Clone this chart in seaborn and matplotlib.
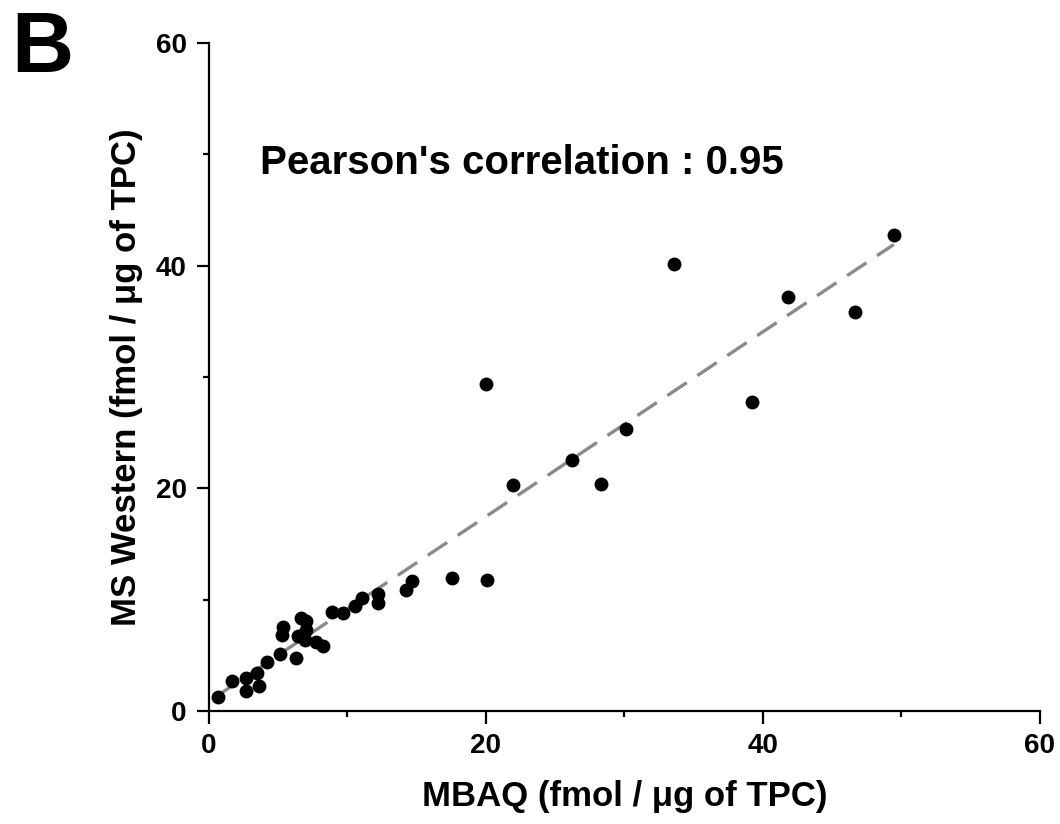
import matplotlib
matplotlib.use("Agg")
import matplotlib.pyplot as plt
import seaborn as sns
import numpy as np
import pandas as pd
from matplotlib.ticker import MultipleLocator

mbaq = [0.67, 1.64, 2.65, 2.72, 3.49, 3.61, 4.21, 5.17, 5.25, 5.32, 6.28, 6.45, 6.64,
        7.05, 7.0, 6.98, 7.77, 8.25, 8.86, 9.7, 10.59, 11.07, 12.22, 12.22, 14.25, 14.7,
        17.57, 20.05, 20.0, 21.97, 26.2, 28.28, 30.09, 33.57, 39.23, 41.83, 46.64, 49.46]
ms_western = [1.28, 2.7, 1.8, 2.94, 3.39, 2.28, 4.37, 5.12, 6.83, 7.52, 4.79, 6.74, 8.33,
              8.09, 7.28, 6.38, 6.23, 5.87, 8.92, 8.78, 9.46, 10.12, 10.48, 9.73, 10.9, 11.71,
              11.98, 11.77, 29.35, 20.33, 22.55, 20.42, 25.34, 40.16, 27.79, 37.17, 35.79, 42.74]

x_ticks = [0, 20, 40, 60]
y_ticks = [0, 20, 40, 60]
annotation = "Pearson's correlation : 0.95"
x_label = "MBAQ (fmol / \u03bcg of TPC)"
y_label = "MS Western (fmol / \u03bcg of TPC)"
panel = "B"

df = pd.DataFrame({"MBAQ": mbaq, "MSW": ms_western})

sns.set_theme(style="ticks")
plt.rcParams['font.family'] = ['Liberation Sans', 'DejaVu Sans']
plt.rcParams['font.weight'] = 'bold'
plt.rcParams['text.color'] = 'black'
plt.rcParams['axes.labelcolor'] = 'black'
plt.rcParams['xtick.color'] = 'black'
plt.rcParams['ytick.color'] = 'black'

fig = plt.figure(figsize=(10.6, 8.24), dpi=100)
ax = fig.add_axes([0.197, 0.137, 0.784, 0.811])

sns.regplot(data=df, x="MBAQ", y="MSW", scatter=False, ci=None, ax=ax,
            line_kws=dict(color="#8a8a8a", lw=2.4, dashes=(7, 3.8)))
sns.scatterplot(data=df, x="MBAQ", y="MSW", ax=ax, color="black", s=100,
                edgecolor="black", linewidth=0, zorder=3)

ax.set_xlim(0, 60)
ax.set_ylim(0, 60)
ax.set_xticks(x_ticks)
ax.set_yticks(y_ticks)
ax.xaxis.set_minor_locator(MultipleLocator(10))
ax.yaxis.set_minor_locator(MultipleLocator(10))
for s in ["top", "right"]:
    ax.spines[s].set_visible(False)
for s in ["left", "bottom"]:
    ax.spines[s].set_linewidth(1.6)
    ax.spines[s].set_color("black")
ax.tick_params(which="major", direction="out", length=9, width=1.6, labelsize=20, pad=7,
               colors="black")
ax.tick_params(which="minor", direction="out", length=4, width=1.6, colors="black")
for lab in ax.get_xticklabels() + ax.get_yticklabels():
    lab.set_fontweight("bold")

ax.set_xlabel(x_label, fontsize=25, fontweight="bold", labelpad=15, color="black")
ax.set_ylabel(y_label, fontsize=25, fontweight="bold", labelpad=9, color="black")

ax.text(3.7, 49.2, annotation, fontsize=29, fontweight="bold", ha="left", va="center",
        color="black")
fig.text(0.011, 0.988, panel, fontsize=62, fontweight="bold", ha="left", va="top",
         color="black")

fig.savefig("out.png", dpi=100)
